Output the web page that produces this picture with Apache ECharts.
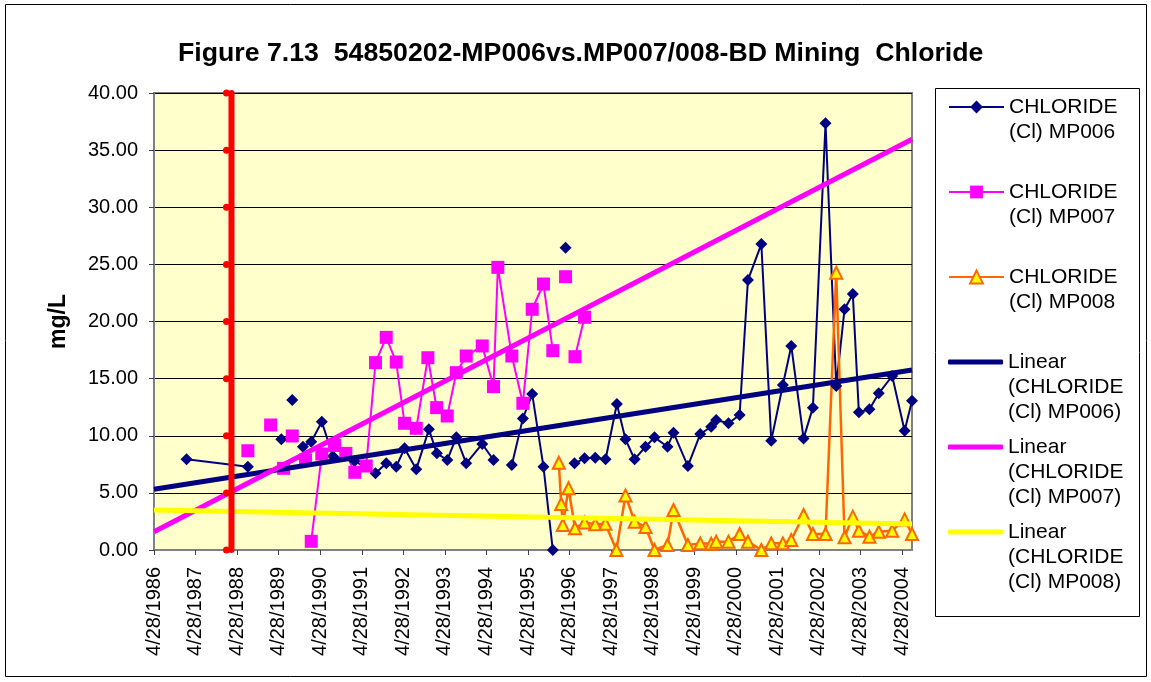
<!DOCTYPE html>
<html>
<head>
<meta charset="utf-8">
<script src="https://cdn.jsdelivr.net/npm/echarts@6/dist/echarts.min.js"></script>
<style>
  html, body { margin: 0; padding: 0; background: #ffffff; }
  #chart { width: 1151px; height: 682px; }
</style>
</head>
<body>
<div id="chart"></div>
<script>
// Date axis tick labels (one per year from the first sampling anniversary)
const xTickLabels = [
  '4/28/1986', '4/28/1987', '4/28/1988', '4/28/1989', '4/28/1990',
  '4/28/1991', '4/28/1992', '4/28/1993', '4/28/1994', '4/28/1995',
  '4/28/1996', '4/28/1997', '4/28/1998', '4/28/1999', '4/28/2000',
  '4/28/2001', '4/28/2002', '4/28/2003', '4/28/2004'
];
const axisStartDate = '1986-04-28';
const axisEndDate = '2004-07-24';

// Chloride (Cl), mg/L — null entries mark breaks in the plotted line
const mp006Dates = [
  '1987-02-08', '1988-07-31', null, '1989-05-21', null, '1989-08-25', null,
  '1989-11-27', '1990-02-08', '1990-05-12', '1990-08-17', '1991-02-24', '1991-08-27',
  '1991-11-29', '1992-02-25', '1992-05-08', '1992-08-19', '1992-12-08', '1993-02-16',
  '1993-05-19', '1993-08-06', '1993-11-01', '1994-03-22', '1994-06-29', null,
  '1994-12-07', '1995-03-14', '1995-06-04', '1995-09-11', '1995-12-02', null,
  '1996-03-23', null,
  '1996-06-10', '1996-09-06', '1996-12-09', '1997-03-10', '1997-06-17', '1997-09-01',
  '1997-11-20', '1998-02-24', '1998-05-14', '1998-09-05', '1998-10-28', '1999-03-03',
  '1999-06-20', '1999-09-24', '1999-11-07', '2000-02-23', '2000-05-31', '2000-08-12',
  '2000-12-08', '2001-03-05', '2001-06-15', '2001-08-28', '2001-12-14', '2002-03-06',
  '2002-06-25', '2002-09-27', '2002-12-09', '2003-02-20', '2003-04-14', '2003-07-16',
  '2003-10-06', '2004-02-01', '2004-05-20', '2004-07-24'
];
const mp006Values = [
  7.94, 7.29, null, 9.69, null, 13.13, null,
  9.04, 9.48, 11.23, 8.2, 7.8, 6.71,
  7.59, 7.29, 8.9, 7.06, 10.56, 8.46,
  7.88, 9.86, 7.59, 9.28, 7.88, null,
  7.44, 11.52, 13.65, 7.29, 0.0, null,
  26.46, null,
  7.59, 8.02, 8.08, 7.94, 12.78, 9.69,
  7.94, 9.04, 9.86, 9.04, 10.27, 7.35,
  10.15, 10.79, 11.38, 11.09, 11.82, 23.63,
  26.78, 9.57, 14.44, 17.86, 9.77, 12.46,
  37.35, 14.35, 21.07, 22.41, 12.05, 12.31,
  13.71, 15.23, 10.44, 13.07
];

const mp007Dates = [
  '1988-07-31', null, '1989-02-16', null, '1989-06-10', null, '1989-08-25', null,
  '1989-12-20', null,
  '1990-02-08', '1990-05-12', '1990-09-01', '1990-12-09', '1991-02-26', '1991-06-06',
  '1991-08-27', '1991-11-29', '1992-02-25', '1992-05-08', '1992-08-19', '1992-11-29',
  '1993-02-14', '1993-05-18', '1993-08-06', '1993-11-01', '1994-03-22', '1994-06-29',
  '1994-08-06', '1994-12-07', '1995-03-14', '1995-06-04', '1995-09-11', '1995-12-02',
  null, '1996-03-23', null,
  '1996-06-14', '1996-09-06'
];
const mp007Values = [
  8.69, null, 10.94, null, 7.15, null, 9.98, null,
  7.88, null,
  0.76, 8.40, 9.15, 8.46, 6.80, 7.35,
  16.40, 18.61, 16.45, 11.09, 10.65, 16.83,
  12.46, 11.73, 15.52, 16.98, 17.86, 14.30,
  24.74, 16.98, 12.84, 21.07, 23.28, 17.45,
  null, 23.92, null,
  16.92, 20.37
];

const mp008Dates = [
  '1996-01-24', '1996-02-14', '1996-02-28', '1996-04-18', '1996-06-14', '1996-09-06',
  '1996-12-09', '1997-03-08', '1997-06-13', '1997-09-01', '1997-11-20', '1998-02-24',
  '1998-05-14', '1998-09-05', '1998-10-28', '1999-03-03', '1999-06-20', '1999-09-24',
  '1999-11-07', '2000-02-23', '2000-05-31', '2000-08-12', '2000-12-08', '2001-03-05',
  '2001-06-15', '2001-08-28', '2001-12-14', '2002-03-06', '2002-06-25', '2002-09-27',
  '2002-12-09', '2003-02-20', '2003-04-14', '2003-07-16', '2003-10-06', '2004-02-01',
  '2004-05-20', '2004-07-24'
];
const mp008Values = [
  7.64, 4.03, 2.19, 5.40, 1.90, 2.40,
  2.26, 2.30, 0.0, 4.77, 2.48, 2.02,
  0.0, 0.44, 3.50, 0.44, 0.58, 0.55,
  0.73, 0.73, 1.40, 0.73, 0.0, 0.58,
  0.58, 0.88, 3.06, 1.40, 1.40, 24.27,
  1.11, 2.92, 1.69, 1.17, 1.60, 1.69,
  2.68, 1.40
];

// Linear trend lines across the axis span (start, end)
const trendDates = ['1986-04-28', '2004-07-24'];
const trend006 = [5.31, 15.75];
const trend007 = [1.60, 35.95];
const trend008 = [3.50, 2.28];

// Vertical reference line
const markerDate = '1988-03-09';
const markerLevels = [0, 5, 10, 15, 20, 25, 30, 35, 40];

// x values are years elapsed since the axis start date
const DAY_MS = 86400000;
function utc(s) {
  const p = s.split('-').map(Number);
  return Date.UTC(p[0], p[1] - 1, p[2]);
}
const originMs = utc(axisStartDate);
function toYears(s) {
  return (utc(s) - originMs) / (365.25 * DAY_MS);
}
function pairs(dates, values) {
  return dates.map((d, i) => (d == null || values[i] == null) ? [null, null] : [toYears(d), values[i]]);
}

const FONT = "'Liberation Sans', Arial, sans-serif";
const NAVY = '#000080';
const MAGENTA = '#FF00FF';
const ORANGE = '#FF6600';
const YELLOW = '#FFFF00';

const names = {
  s6: 'CHLORIDE (Cl) MP006',
  s7: 'CHLORIDE (Cl) MP007',
  s8: 'CHLORIDE (Cl) MP008',
  t6: 'Linear (CHLORIDE (Cl) MP006)',
  t7: 'Linear (CHLORIDE (Cl) MP007)',
  t8: 'Linear (CHLORIDE (Cl) MP008)'
};

const legendEntries = [
  { name: names.s6, lines: ['CHLORIDE', '(Cl) MP006'], cy: 107, trend: false },
  { name: names.s7, lines: ['CHLORIDE', '(Cl) MP007'], cy: 192, trend: false },
  { name: names.s8, lines: ['CHLORIDE', '(Cl) MP008'], cy: 277, trend: false },
  { name: names.t6, lines: ['Linear', '(CHLORIDE', '(Cl) MP006)'], cy: 362, trend: true },
  { name: names.t7, lines: ['Linear', '(CHLORIDE', '(Cl) MP007)'], cy: 447, trend: true },
  { name: names.t8, lines: ['Linear', '(CHLORIDE', '(Cl) MP008)'], cy: 532, trend: true }
];
const LINE_H = 25;

// Each entry's first text line sits level with its key: blank leading lines
// balance the text block around the key's centre.
const legends = legendEntries.map(e => {
  const n = e.lines.length;
  return {
    show: true,
    orient: 'vertical',
    left: 948,
    top: e.cy - (2 * n - 1) * LINE_H / 2,
    padding: 0,
    itemGap: 0,
    itemWidth: 55,
    itemHeight: e.trend ? 5 : 16,
    data: [e.trend ? { name: e.name, icon: 'roundRect' } : { name: e.name }],
    formatter: () => '\n'.repeat(n - 1) + e.lines.join('\n'),
    textStyle: {
      fontFamily: FONT,
      fontSize: 21,
      lineHeight: LINE_H,
      color: '#000'
    }
  };
});

const chart = echarts.init(document.getElementById('chart'), null, { renderer: 'canvas' });

chart.setOption({
  animation: false,
  backgroundColor: '#ffffff',
  title: {
    text: 'Figure 7.13  54850202-MP006vs.MP007/008-BD Mining  Chloride',
    left: 178,
    top: 40,
    padding: 0,
    textStyle: { fontFamily: FONT, fontSize: 26.7, fontWeight: 'bold', color: '#000' }
  },
  legend: legends,
  graphic: [
    {
      type: 'rect',
      shape: { x: 5.5, y: 4.5, width: 1141, height: 672 },
      style: { fill: 'none', stroke: '#000', lineWidth: 1 },
      silent: true, z: -1
    },
    {
      type: 'rect',
      shape: { x: 935.5, y: 88.5, width: 204, height: 528 },
      style: { fill: 'none', stroke: '#000', lineWidth: 1 },
      silent: true, z: -1
    }
  ],
  grid: {
    left: 154, top: 93, width: 758, height: 457,
    show: true,
    backgroundColor: '#FFFFCC',
    borderColor: '#808080',
    borderWidth: 2
  },
  xAxis: {
    type: 'value',
    min: 0,
    max: toYears(axisEndDate),
    interval: 1,
    axisLine: { show: true, onZero: false, lineStyle: { color: '#808080', width: 2 } },
    axisTick: {
      show: true, length: 5, inside: false,
      customValues: xTickLabels.map((_, i) => i),
      lineStyle: { color: '#404040', width: 1 }
    },
    axisLabel: {
      rotate: 90,
      margin: 17,
      customValues: xTickLabels.map((_, i) => i),
      formatter: v => xTickLabels[Math.round(v)] || '',
      fontFamily: FONT, fontSize: 20, color: '#000'
    },
    splitLine: { show: false }
  },
  yAxis: {
    type: 'value',
    min: 0, max: 40, interval: 5,
    name: 'mg/L',
    nameLocation: 'middle',
    nameRotate: 90,
    nameGap: 84,
    nameTextStyle: { fontFamily: FONT, fontSize: 23, fontWeight: 'bold', color: '#000' },
    axisLine: { show: true, lineStyle: { color: '#808080', width: 2 } },
    axisTick: { show: true, length: 5, inside: false, lineStyle: { color: '#404040', width: 1 } },
    axisLabel: {
      margin: 16,
      formatter: v => v.toFixed(2),
      fontFamily: FONT, fontSize: 20, color: '#000'
    },
    splitLine: { show: true, lineStyle: { color: '#000', width: 1 } }
  },
  series: [
    {
      name: names.s6, type: 'line',
      data: pairs(mp006Dates, mp006Values),
      symbol: 'diamond', symbolSize: 12, showSymbol: true,
      color: NAVY,
      lineStyle: { color: NAVY, width: 2 },
      itemStyle: { color: NAVY },
      connectNulls: false, z: 2
    },
    {
      name: names.s7, type: 'line',
      data: pairs(mp007Dates, mp007Values),
      symbol: 'rect', symbolSize: 13, showSymbol: true,
      color: MAGENTA,
      lineStyle: { color: MAGENTA, width: 2 },
      itemStyle: { color: MAGENTA },
      connectNulls: false, z: 2
    },
    {
      name: names.s8, type: 'line',
      data: pairs(mp008Dates, mp008Values),
      symbol: 'triangle', symbolSize: 12, showSymbol: true,
      color: ORANGE,
      lineStyle: { color: ORANGE, width: 2.5 },
      itemStyle: { color: YELLOW, borderColor: ORANGE, borderWidth: 2 },
      connectNulls: false, z: 2
    },
    {
      name: names.t6, type: 'line',
      data: pairs(trendDates, trend006),
      symbol: 'none', color: NAVY,
      lineStyle: { color: NAVY, width: 5 }, z: 3
    },
    {
      name: names.t7, type: 'line',
      data: pairs(trendDates, trend007),
      symbol: 'none', color: MAGENTA,
      lineStyle: { color: MAGENTA, width: 5 }, z: 3
    },
    {
      name: names.t8, type: 'line',
      data: pairs(trendDates, trend008),
      symbol: 'none', color: YELLOW,
      lineStyle: { color: YELLOW, width: 5 }, z: 3
    },
    {
      name: 'marker', type: 'line',
      data: markerLevels.map(v => [toYears(markerDate), v]),
      symbol: 'circle', symbolSize: 7, symbolOffset: [-5, 0],
      color: '#FF0000',
      itemStyle: { color: '#FF0000' },
      lineStyle: { color: '#FF0000', width: 6, cap: 'round' },
      clip: false, z: 4
    }
  ]
});
</script>
</body>
</html>
